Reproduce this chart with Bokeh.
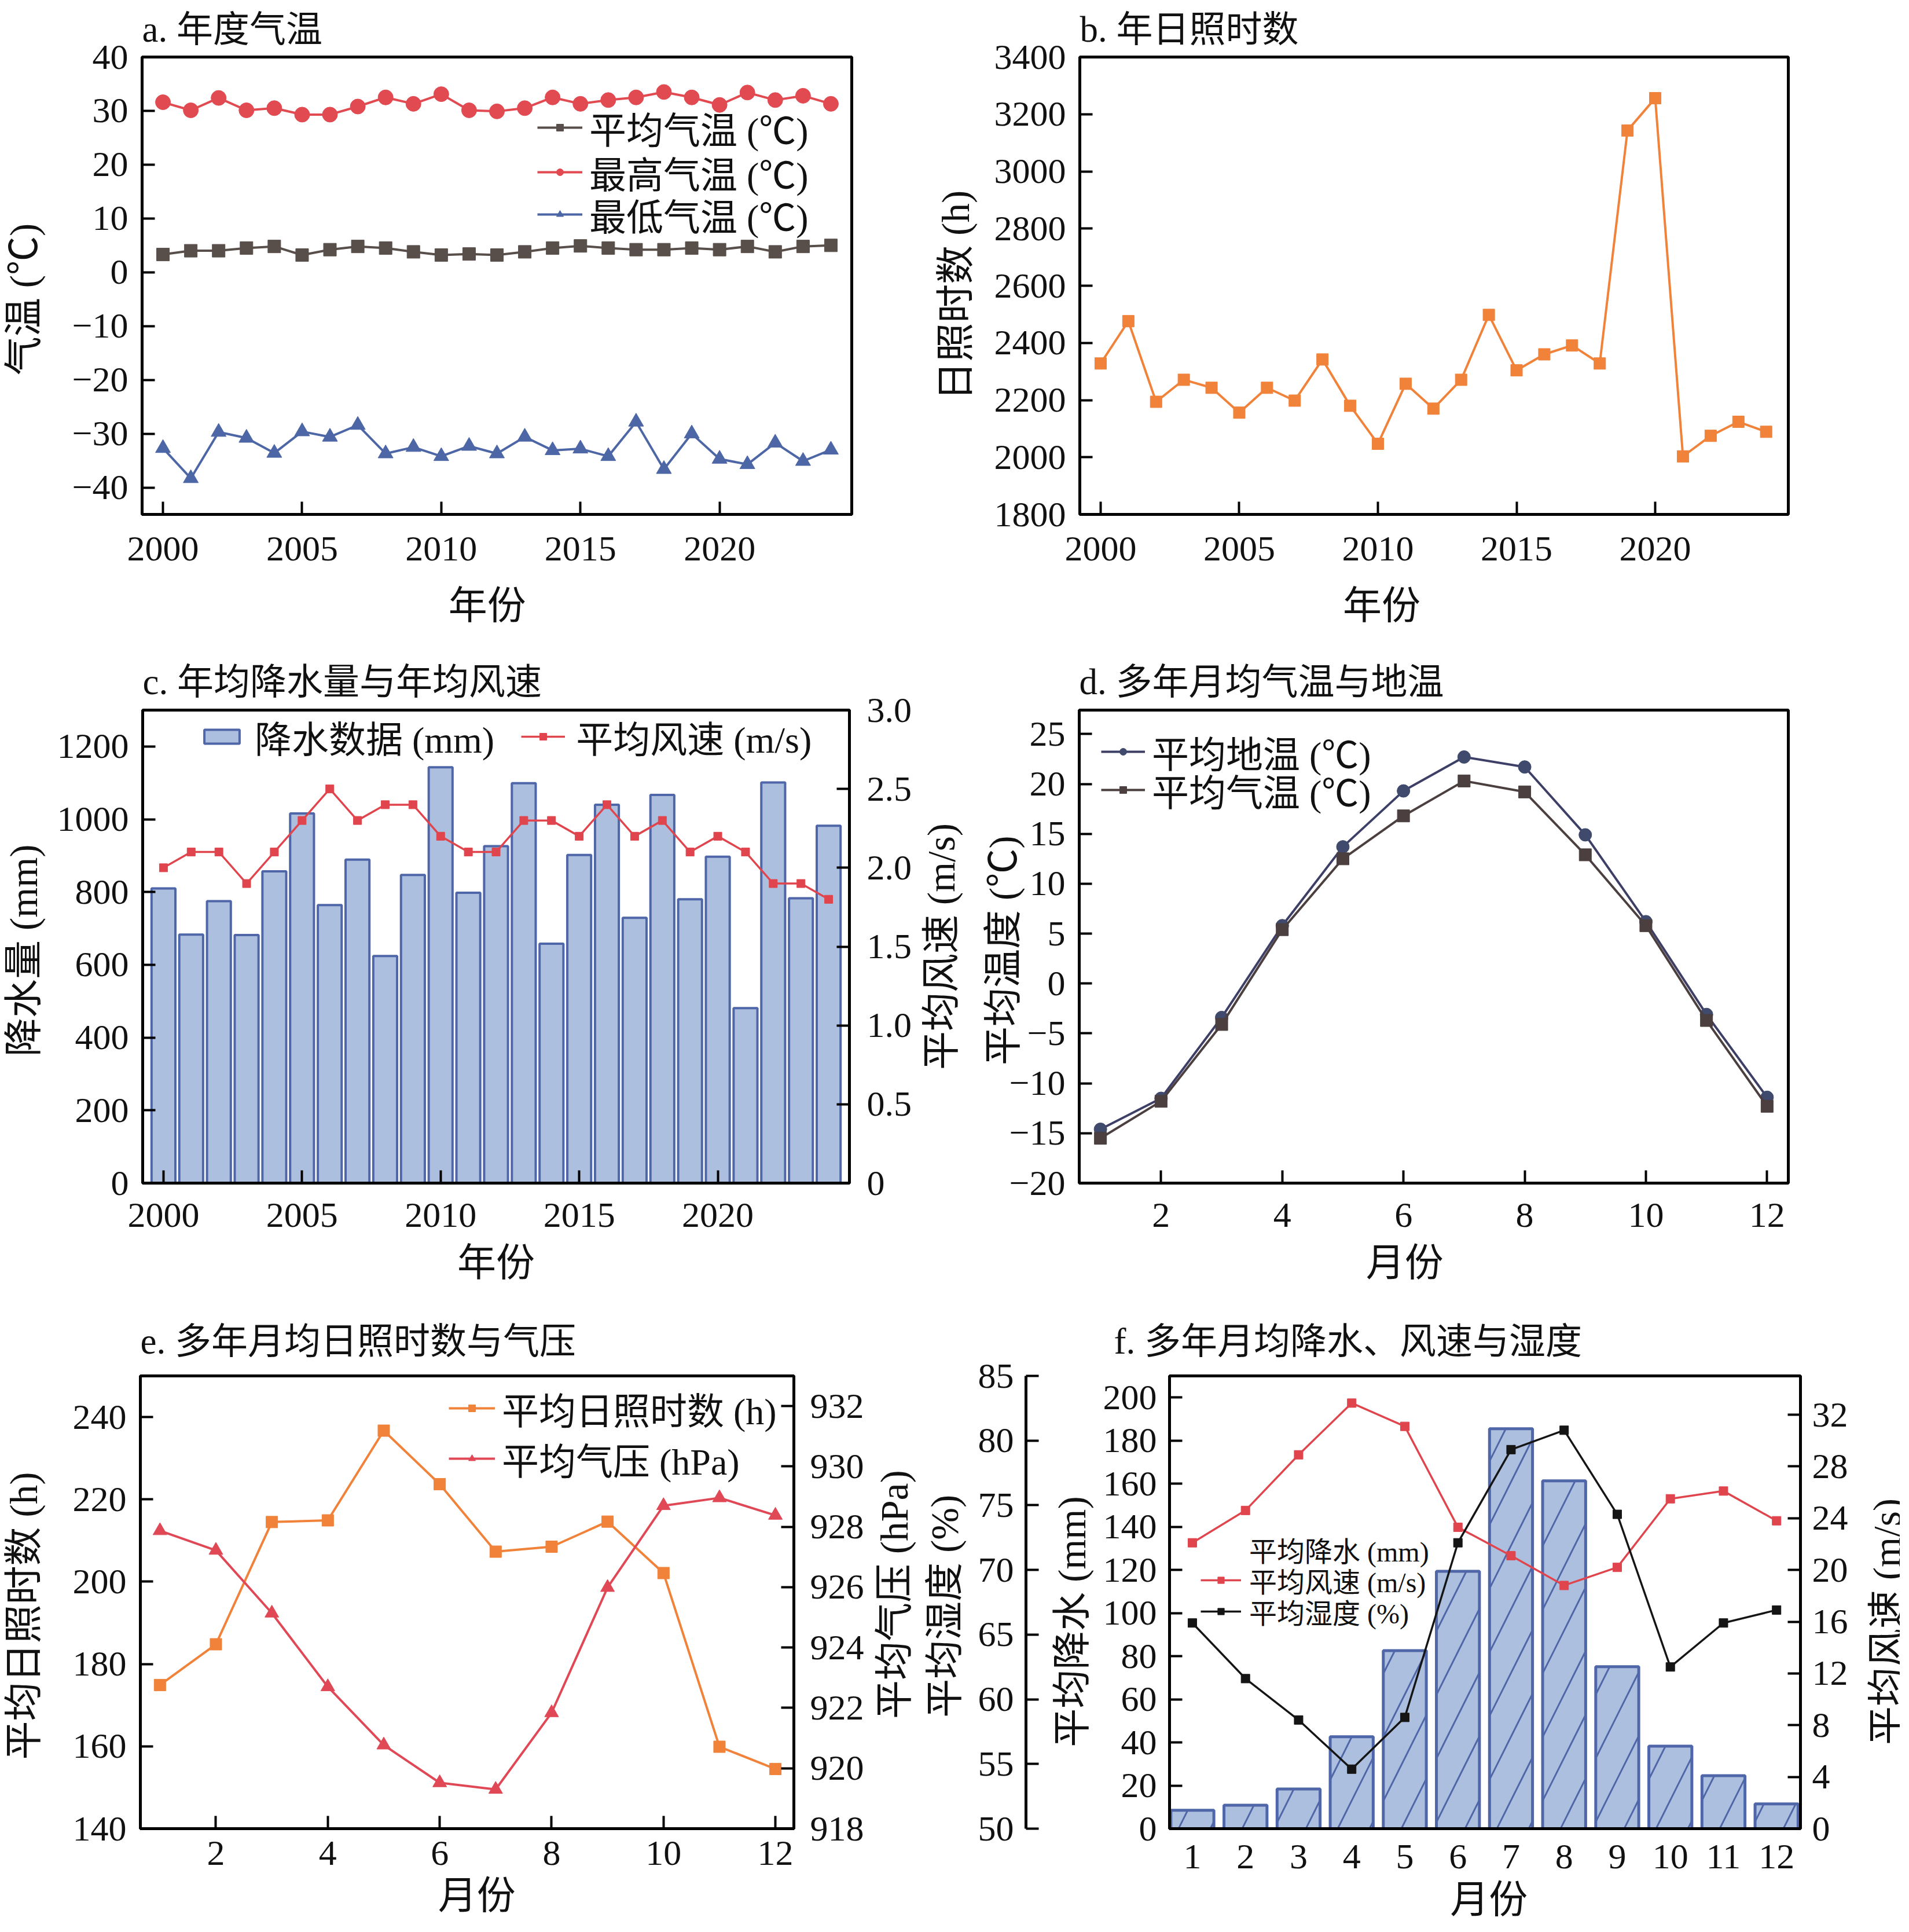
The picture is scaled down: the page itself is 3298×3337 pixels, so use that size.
import math
from bokeh.plotting import figure
from bokeh.models import (Range1d, LinearAxis, FixedTicker, Legend, LegendItem,
                          CustomJSTickFormatter, Title)
from bokeh.layouts import column, row
from bokeh.embed import file_html
from bokeh.resources import INLINE

FONT = "'Liberation Serif', 'Noto Sans CJK SC'"

# ---------------- data ----------------
years = list(range(2000, 2025))
temp_mean = [3.3, 4.0, 4.0, 4.5, 4.8, 3.2, 4.2, 4.8, 4.5, 3.8, 3.2, 3.4, 3.2, 3.8, 4.5,
             4.9, 4.5, 4.2, 4.2, 4.5, 4.2, 4.8, 3.8, 4.8, 5.0]
temp_max = [31.6, 30.1, 32.4, 30.1, 30.5, 29.3, 29.3, 30.8, 32.5, 31.3, 33.1, 30.1, 29.9,
            30.5, 32.5, 31.3, 32.0, 32.5, 33.5, 32.5, 31.1, 33.4, 32.0, 32.8, 31.3]
temp_min = [-32.7, -38.3, -29.7, -30.8, -33.6, -29.6, -30.6, -28.4, -33.7, -32.5, -34.2,
            -32.3, -33.7, -30.6, -33.1, -32.8, -34.2, -27.8, -36.6, -30.0, -34.7, -35.7,
            -31.7, -35.1, -33.0]
sunshine_year = [2328, 2476, 2194, 2271, 2243, 2156, 2243, 2198, 2342, 2180, 2047, 2257,
                 2170, 2271, 2498, 2304, 2360, 2391, 2328, 3143, 3256, 2003, 2075, 2124, 2089]
precip_year = [810, 683, 775, 682, 857, 1016, 764, 889, 624, 847, 1143, 798, 926, 1099,
               658, 902, 1040, 729, 1067, 780, 897, 481, 1101, 783, 982]
wind_year = [2.0, 2.1, 2.1, 1.9, 2.1, 2.3, 2.5, 2.3, 2.4, 2.4, 2.2, 2.1, 2.1, 2.3, 2.3,
             2.2, 2.4, 2.2, 2.3, 2.1, 2.2, 2.1, 1.9, 1.9, 1.8]

months = list(range(1, 13))
ground_temp = [-14.6, -11.5, -3.4, 5.8, 13.7, 19.3, 22.7, 21.7, 14.9, 6.2, -3.1, -11.4]
air_temp = [-15.5, -11.8, -4.1, 5.4, 12.5, 16.8, 20.3, 19.2, 12.9, 5.8, -3.7, -12.3]
sunshine_month = [174.9, 184.8, 214.5, 214.9, 236.7, 223.7, 207.3, 208.5, 214.6, 202.1,
                  159.9, 154.5]
pressure_month = [927.87, 927.22, 925.14, 922.70, 920.77, 919.52, 919.30, 921.84, 925.99,
                  928.70, 928.96, 928.38]
precip_month = [8.5, 10.9, 18.4, 42.6, 82.6, 119.4, 185.5, 161.3, 75.1, 38.3, 24.6, 11.5]
wind_month = [22.1, 24.6, 28.9, 32.9, 31.1, 23.3, 21.1, 18.8, 20.2, 25.5, 26.1, 23.8]
humidity_month = [65.9, 61.6, 58.4, 54.6, 58.6, 72.1, 79.3, 80.8, 74.3, 62.5, 65.9, 66.9]

# tick lists
ticks_a_y = list(range(-40, 41, 10))
ticks_years = [2000, 2005, 2010, 2015, 2020]
ticks_b_y = list(range(1800, 3401, 200))
ticks_c_y = list(range(0, 1201, 200))
ticks_c_r = [0, 0.5, 1.0, 1.5, 2.0, 2.5, 3.0]
ticks_d_y = list(range(-20, 26, 5))
ticks_m2 = [2, 4, 6, 8, 10, 12]
ticks_e_y = list(range(140, 241, 20))
ticks_e_r = list(range(918, 933, 2))
ticks_f_y = list(range(0, 201, 20))
ticks_f_h = list(range(50, 86, 5))
ticks_f_r = list(range(0, 33, 4))

# colours
MEAN_C = "#584e4a"
MAX_C = "#e24a52"
MIN_C = "#4d66a6"
SUN_C = "#f0823a"
BAR_FILL = "#adbfdf"
BAR_LINE = "#4f66a8"
WIND_C = "#e0454d"
GROUND_C = "#3d3f66"
GROUND_M = "#3f4a6c"
AIR_C = "#4b3f3f"
PRESS_C = "#e04856"
HUM_C = "#151515"
TEXT_C = "#111111"

TICK_FS = "62px"
LABEL_FS = "67px"
TITLE_FS = "63px"
LEG_FS = "64px"

# spacing characters used to nudge a centred label along its axis
EM = "\u3000"
EN = "\u2002"
THIN = "\u2009"

MINUS_FMT = "return (tick < 0 ? '\u2212' : '') + Math.abs(tick).toString();"

# row geometry (figures in one row share their top / bottom borders)
R1_H, R1_T, R1_B = 1100, 90, 212
R2_H, R2_T, R2_B = 1145, 126, 202
R3_H, R3_T, R3_B = 1084, 131, 167


def base_fig(w, h, bl, br, bt, bb, xr, yr, title, title_standoff, title_offset=0):
    p = figure(width=w, height=h, min_border_left=bl, min_border_right=br,
               min_border_top=bt, min_border_bottom=bb, x_range=xr, y_range=yr,
               output_backend="svg", toolbar_location=None, title=title)
    p.background_fill_color = "white"
    p.border_fill_color = "white"
    p.outline_line_color = "black"
    p.outline_line_width = 5
    p.outline_line_alpha = 1
    p.xgrid.visible = False
    p.ygrid.visible = False
    p.title.text_font = FONT
    p.title.text_font_size = TITLE_FS
    p.title.text_font_style = "normal"
    p.title.text_color = TEXT_C
    p.title.align = "left"
    p.title.standoff = title_standoff
    p.title.offset = title_offset
    return p


def style_axis(ax, ticks, label=None, label_standoff=20, tick_in=22, label_gap=24,
               fmt=None):
    ax.ticker = FixedTicker(ticks=ticks)
    ax.major_tick_in = tick_in
    ax.major_tick_out = 0
    ax.minor_tick_in = 0
    ax.minor_tick_out = 0
    ax.major_tick_line_width = 4
    ax.major_tick_line_color = "black"
    ax.axis_line_width = 5
    ax.axis_line_color = "black"
    ax.major_label_text_font = FONT
    ax.major_label_text_font_size = TICK_FS
    ax.major_label_text_color = TEXT_C
    ax.major_label_standoff = label_gap
    if fmt is not None:
        ax.formatter = CustomJSTickFormatter(code=fmt)
    ax.axis_label = label
    ax.axis_label_text_font = FONT
    ax.axis_label_text_font_size = LABEL_FS
    ax.axis_label_text_font_style = "normal"
    ax.axis_label_text_color = TEXT_C
    ax.axis_label_standoff = label_standoff


def bottom_title(p, text, standoff):
    p.add_layout(Title(text=text, align="center", standoff=standoff,
                       text_font=FONT, text_font_size=LABEL_FS, text_font_style="normal",
                       text_color=TEXT_C), "below")


def label_fig(w, h, bl, br, bt, bb, text, standoff):
    """Narrow blank figure whose only visible content is a vertical axis title
    (used for the right-hand axis titles, which read bottom-to-top)."""
    t = figure(width=w, height=h, min_border_left=bl, min_border_right=br,
               min_border_top=bt, min_border_bottom=bb, x_range=Range1d(0, 1),
               y_range=Range1d(0, 1), output_backend="svg", toolbar_location=None)
    t.outline_line_color = None
    t.background_fill_color = "white"
    t.border_fill_color = "white"
    t.xaxis.visible = False
    t.xgrid.visible = False
    t.ygrid.visible = False
    ax = t.yaxis[0]
    ax.ticker = FixedTicker(ticks=[])
    ax.axis_line_color = None
    ax.major_tick_line_color = None
    ax.minor_tick_line_color = None
    ax.major_tick_in = 0
    ax.major_tick_out = 0
    ax.minor_tick_in = 0
    ax.minor_tick_out = 0
    ax.major_label_standoff = 0
    ax.axis_label = text
    ax.axis_label_text_font = FONT
    ax.axis_label_text_font_size = LABEL_FS
    ax.axis_label_text_font_style = "normal"
    ax.axis_label_text_color = TEXT_C
    ax.axis_label_standoff = standoff
    return t


def add_legend(p, items, loc, font_size, gw, gh, standoff, spacing=0,
               orientation="vertical"):
    lg = Legend(items=items, location=loc, orientation=orientation,
                label_text_font=FONT, label_text_font_size=font_size,
                label_text_color=TEXT_C,
                glyph_width=gw, glyph_height=gh, spacing=spacing,
                label_standoff=standoff, padding=0, margin=0,
                border_line_color=None, background_fill_alpha=0)
    p.add_layout(lg, "center")


# ---------------- a ----------------
pa = base_fig(1600, R1_H, 239, 129, R1_T, R1_B, Range1d(1999.25, 2024.75), Range1d(-45, 40),
              "a. 年度气温", 26)
style_axis(pa.xaxis[0], ticks_years, "年份" + EN, 38, label_gap=39)
style_axis(pa.yaxis[0], ticks_a_y, "气温 (℃)" + EN + THIN, 44, fmt=MINUS_FMT)
l1 = pa.line(years, temp_mean, line_color=MEAN_C, line_width=4)
s1 = pa.scatter(years, temp_mean, marker="square", size=22, fill_color=MEAN_C, line_color=MEAN_C)
l2 = pa.line(years, temp_max, line_color=MAX_C, line_width=4)
s2 = pa.scatter(years, temp_max, marker="circle", size=26, fill_color=MAX_C, line_color=MAX_C)
l3 = pa.line(years, temp_min, line_color=MIN_C, line_width=4)
s3 = pa.scatter(years, temp_min, marker="triangle", size=26, fill_color=MIN_C, line_color=MIN_C)
add_legend(pa, [LegendItem(label="平均气温 (℃)", renderers=[l1, s1])], (683, 622), LEG_FS, 78, 30, 12)
add_legend(pa, [LegendItem(label="最高气温 (℃)", renderers=[l2, s2])], (683, 545), LEG_FS, 78, 30, 12)
add_legend(pa, [LegendItem(label="最低气温 (℃)", renderers=[l3, s3])], (683, 472), LEG_FS, 78, 30, 12)

# ---------------- b ----------------
pb = base_fig(1682, R1_H, 265, 193, R1_T, R1_B, Range1d(1999.25, 2024.8), Range1d(1800, 3400),
              "b. 年日照时数", 26)
style_axis(pb.xaxis[0], ticks_years, "年份" + EM + EM + EN + THIN, 38, label_gap=39)
style_axis(pb.yaxis[0], ticks_b_y, "日照时数 (h)" + EN, 27)
pb.line(years, sunshine_year, line_color=SUN_C, line_width=4)
pb.scatter(years, sunshine_year, marker="square", size=20, fill_color=SUN_C, line_color=SUN_C)

# ---------------- c ----------------
pc = base_fig(1584, R2_H, 240, 117, R2_T, R2_B, Range1d(1999.25, 2024.75), Range1d(0, 1300),
              "c. 年均降水量与年均风速", 28)
pc.extra_y_ranges = {"wind": Range1d(0, 3)}
style_axis(pc.xaxis[0], ticks_years, "年份", 22, label_gap=35)
style_axis(pc.yaxis[0], ticks_c_y, "降水量 (mm)" + THIN, 18)
ax_cr = LinearAxis(y_range_name="wind")
style_axis(ax_cr, ticks_c_r, None, label_gap=30, fmt="return tick == 0 ? '0' : tick.toFixed(1);")
pc.add_layout(ax_cr, "right")
bars_c = pc.vbar(x=years, top=precip_year, width=0.86, bottom=0, fill_color=BAR_FILL,
                 line_color=BAR_LINE, line_width=4)
lc = pc.line(years, wind_year, line_color=WIND_C, line_width=3.5, y_range_name="wind")
sc = pc.scatter(years, wind_year, marker="square", size=14, fill_color=WIND_C,
                line_color=WIND_C, y_range_name="wind")
add_legend(pc, [LegendItem(label="降水数据 (mm)", renderers=[bars_c]),
                LegendItem(label="平均风速 (m/s)", renderers=[lc, sc])],
           (99, 725), LEG_FS, 76, 30, 19, spacing=46, orientation="horizontal")

tc = label_fig(80, R2_H, 78, 1, R2_T, R2_B, "平均风速 (m/s)", 0)

# ---------------- d ----------------
pd_ = base_fig(1618, R2_H, 200, 193, R2_T, R2_B, Range1d(0.65, 12.35), Range1d(-20, 27.4),
               "d. 多年月均气温与地温", 28)
style_axis(pd_.xaxis[0], ticks_m2, "月份" + EM + EN, 22, label_gap=35)
style_axis(pd_.yaxis[0], ticks_d_y, "平均温度 (℃)" + THIN, -29, fmt=MINUS_FMT)
ld1 = pd_.line(months, ground_temp, line_color=GROUND_C, line_width=4)
sd1 = pd_.scatter(months, ground_temp, marker="circle", size=22, fill_color=GROUND_M,
                  line_color=GROUND_M)
ld2 = pd_.line(months, air_temp, line_color=AIR_C, line_width=4)
sd2 = pd_.scatter(months, air_temp, marker="square", size=21, fill_color=AIR_C, line_color=AIR_C)
add_legend(pd_, [LegendItem(label="平均地温 (℃)", renderers=[ld1, sd1])], (38, 699), LEG_FS, 76, 30, 12)
add_legend(pd_, [LegendItem(label="平均气温 (℃)", renderers=[ld2, sd2])], (38, 633), LEG_FS, 76, 30, 12)

# ---------------- e ----------------
pe = base_fig(1497, R3_H, 236, 126, R3_T, R3_B, Range1d(0.65, 12.33), Range1d(140, 250),
              "e. 多年月均日照时数与气压", 50)
pe.extra_y_ranges = {"press": Range1d(918, 933)}
style_axis(pe.xaxis[0], ticks_m2, None, label_gap=22)
bottom_title(pe, EN + "月份", 22)
style_axis(pe.yaxis[0], ticks_e_y, "平均日照时数 (h)" + EN + THIN, 45)
ax_er = LinearAxis(y_range_name="press")
style_axis(ax_er, ticks_e_r, None, label_gap=28)
pe.add_layout(ax_er, "right")
le1 = pe.line(months, sunshine_month, line_color=SUN_C, line_width=4)
se1 = pe.scatter(months, sunshine_month, marker="square", size=20, fill_color=SUN_C,
                 line_color=SUN_C)
le2 = pe.line(months, pressure_month, line_color=PRESS_C, line_width=4, y_range_name="press")
se2 = pe.scatter(months, pressure_month, marker="triangle", size=24, fill_color=PRESS_C,
                 line_color=PRESS_C, y_range_name="press")
add_legend(pe, [LegendItem(label="平均日照时数 (h)", renderers=[le1, se1])], (533, 680), LEG_FS, 80, 30, 12)
add_legend(pe, [LegendItem(label="平均气压 (hPa)", renderers=[le2, se2])], (533, 593), LEG_FS, 80, 30, 12)

te = label_fig(87, R3_H, 84, 2, R3_T, R3_B, THIN + THIN + "平均气压 (hPa)", 0)

# ---------------- f ----------------
pf = base_fig(1613, R3_H, 436, 87, R3_T, R3_B, Range1d(0.57, 12.45), Range1d(0, 210),
              "f. 多年月均降水、风速与湿度", 50, title_offset=-96)
pf.extra_y_ranges = {"hum": Range1d(50, 85), "wind": Range1d(0, 35)}
style_axis(pf.xaxis[0], months, None, tick_in=0, label_gap=28)
bottom_title(pf, THIN + "月份", 24)
style_axis(pf.yaxis[0], ticks_f_y, "平均降水 (mm)" + EM, 14, label_gap=22)
ax_sp = LinearAxis(y_range_name="hum")
ax_sp.ticker = FixedTicker(ticks=[60])
ax_sp.major_tick_in = 0
ax_sp.major_tick_out = 39
ax_sp.major_tick_line_alpha = 0
ax_sp.minor_tick_in = 0
ax_sp.minor_tick_out = 0
ax_sp.axis_line_alpha = 0
ax_sp.major_label_standoff = 0
ax_sp.formatter = CustomJSTickFormatter(code="return '';")
pf.add_layout(ax_sp, "left")
ax_fh = LinearAxis(y_range_name="hum")
style_axis(ax_fh, ticks_f_h, "平均湿度 (%)" + THIN, 18, label_gap=21)
pf.add_layout(ax_fh, "left")
ax_fr = LinearAxis(y_range_name="wind")
style_axis(ax_fr, ticks_f_r, None, label_gap=20)
pf.add_layout(ax_fr, "right")
pf.vbar(x=months, top=precip_month, width=0.81, bottom=0, fill_color=BAR_FILL,
        line_color=BAR_LINE, line_width=5, hatch_pattern="/", hatch_scale=110,
        hatch_weight=3, hatch_color=BAR_LINE)
bars_f_leg = pf.vbar(x=[], top=[], width=0.81, bottom=0, fill_color=BAR_FILL,
                     line_color=BAR_LINE, line_width=4)
lf1 = pf.line(months, wind_month, line_color=WIND_C, line_width=3.5, y_range_name="wind")
sf1 = pf.scatter(months, wind_month, marker="square", size=15, fill_color=WIND_C,
                 line_color=WIND_C, y_range_name="wind")
lf2 = pf.line(months, humidity_month, line_color=HUM_C, line_width=3.5, y_range_name="hum")
sf2 = pf.scatter(months, humidity_month, marker="square", size=15, fill_color=HUM_C,
                 line_color=HUM_C, y_range_name="hum")
add_legend(pf, [LegendItem(label="平均降水 (mm)", renderers=[bars_f_leg])], (54, 447), "48px", 70, 28, 14)
add_legend(pf, [LegendItem(label="平均风速 (m/s)", renderers=[lf1, sf1])], (54, 394), "48px", 70, 28, 14)
add_legend(pf, [LegendItem(label="平均湿度 (%)", renderers=[lf2, sf2])], (54, 340), "48px", 70, 28, 14)

tf = label_fig(85, R3_H, 78, 6, R3_T, R3_B, "平均风速 (m/s)" + EM, -21)

layout = column(row(pa, pb), row(pc, tc, pd_), row(pe, te, pf, tf))
open("out.html", "w").write(file_html(layout, INLINE))
